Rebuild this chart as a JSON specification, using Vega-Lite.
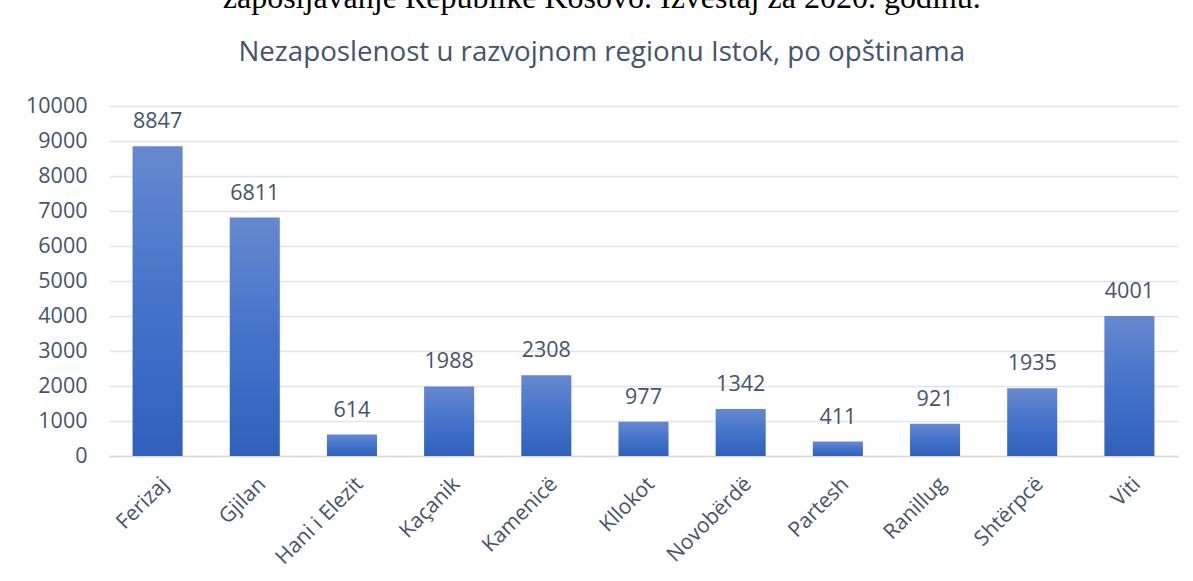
{
  "$schema": "https://vega.github.io/schema/vega-lite/v6.json",
  "width": 1069,
  "height": 350,
  "autosize": {"type": "none"},
  "padding": {"left": 109, "top": 106, "right": 14, "bottom": 125},
  "background": "white",
  "title": {
    "text": "zapošljavanje Republike Kosovo. Izveštaj za 2020. godinu.",
    "subtitle": "Nezaposlenost u razvojnom regionu Istok, po opštinama",
    "font": "Liberation Serif",
    "fontSize": 32,
    "fontWeight": "normal",
    "color": "black",
    "subtitleFont": "Open Sans",
    "subtitleFontSize": 27.7,
    "subtitleColor": "#44546A",
    "subtitlePadding": 24,
    "anchor": "middle",
    "frame": "bounds",
    "offset": 27
  },
  "data": {
    "values": [
      {"opstina": "Ferizaj", "broj": 8847},
      {"opstina": "Gjilan", "broj": 6811},
      {"opstina": "Hani i Elezit", "broj": 614},
      {"opstina": "Kaçanik", "broj": 1988},
      {"opstina": "Kamenicë", "broj": 2308},
      {"opstina": "Kllokot", "broj": 977},
      {"opstina": "Novobërdë", "broj": 1342},
      {"opstina": "Partesh", "broj": 411},
      {"opstina": "Ranillug", "broj": 921},
      {"opstina": "Shtërpcë", "broj": 1935},
      {"opstina": "Viti", "broj": 4001}
    ]
  },
  "encoding": {
    "x": {
      "field": "opstina",
      "type": "nominal",
      "sort": null,
      "title": null,
      "scale": {"paddingInner": 0.485, "paddingOuter": 0.2425},
      "axis": {
        "labelAngle": -45,
        "labelFont": "Open Sans",
        "labelFontSize": 21,
        "labelColor": "#44546A",
        "labelPadding": 17,
        "ticks": false,
        "domain": true,
        "domainColor": "#D9D9D9",
        "domainWidth": 1.5,
        "grid": false
      }
    },
    "y": {
      "field": "broj",
      "type": "quantitative",
      "title": null,
      "scale": {"domain": [0, 10000], "nice": false},
      "axis": {
        "values": [0, 1000, 2000, 3000, 4000, 5000, 6000, 7000, 8000, 9000, 10000],
        "labelFont": "Open Sans",
        "labelFontSize": 21.5,
        "labelColor": "#44546A",
        "labelPadding": 22,
        "ticks": false,
        "domain": false,
        "grid": true,
        "gridColor": "#E1E4EA",
        "gridWidth": 1.5,
        "format": "d"
      }
    }
  },
  "layer": [
    {
      "mark": {
        "type": "bar",
        "color": {
          "gradient": "linear",
          "x1": 0, "y1": 0, "x2": 0, "y2": 1,
          "stops": [
            {"offset": 0, "color": "#6788CF"},
            {"offset": 0.5, "color": "#4473CA"},
            {"offset": 1, "color": "#2F61BC"}
          ]
        }
      }
    },
    {
      "mark": {
        "type": "text",
        "baseline": "alphabetic",
        "dy": -18,
        "font": "Open Sans",
        "fontSize": 21.5,
        "color": "#44546A"
      },
      "encoding": {"text": {"field": "broj", "type": "quantitative", "format": "d"}}
    }
  ],
  "config": {"view": {"stroke": null}}
}
